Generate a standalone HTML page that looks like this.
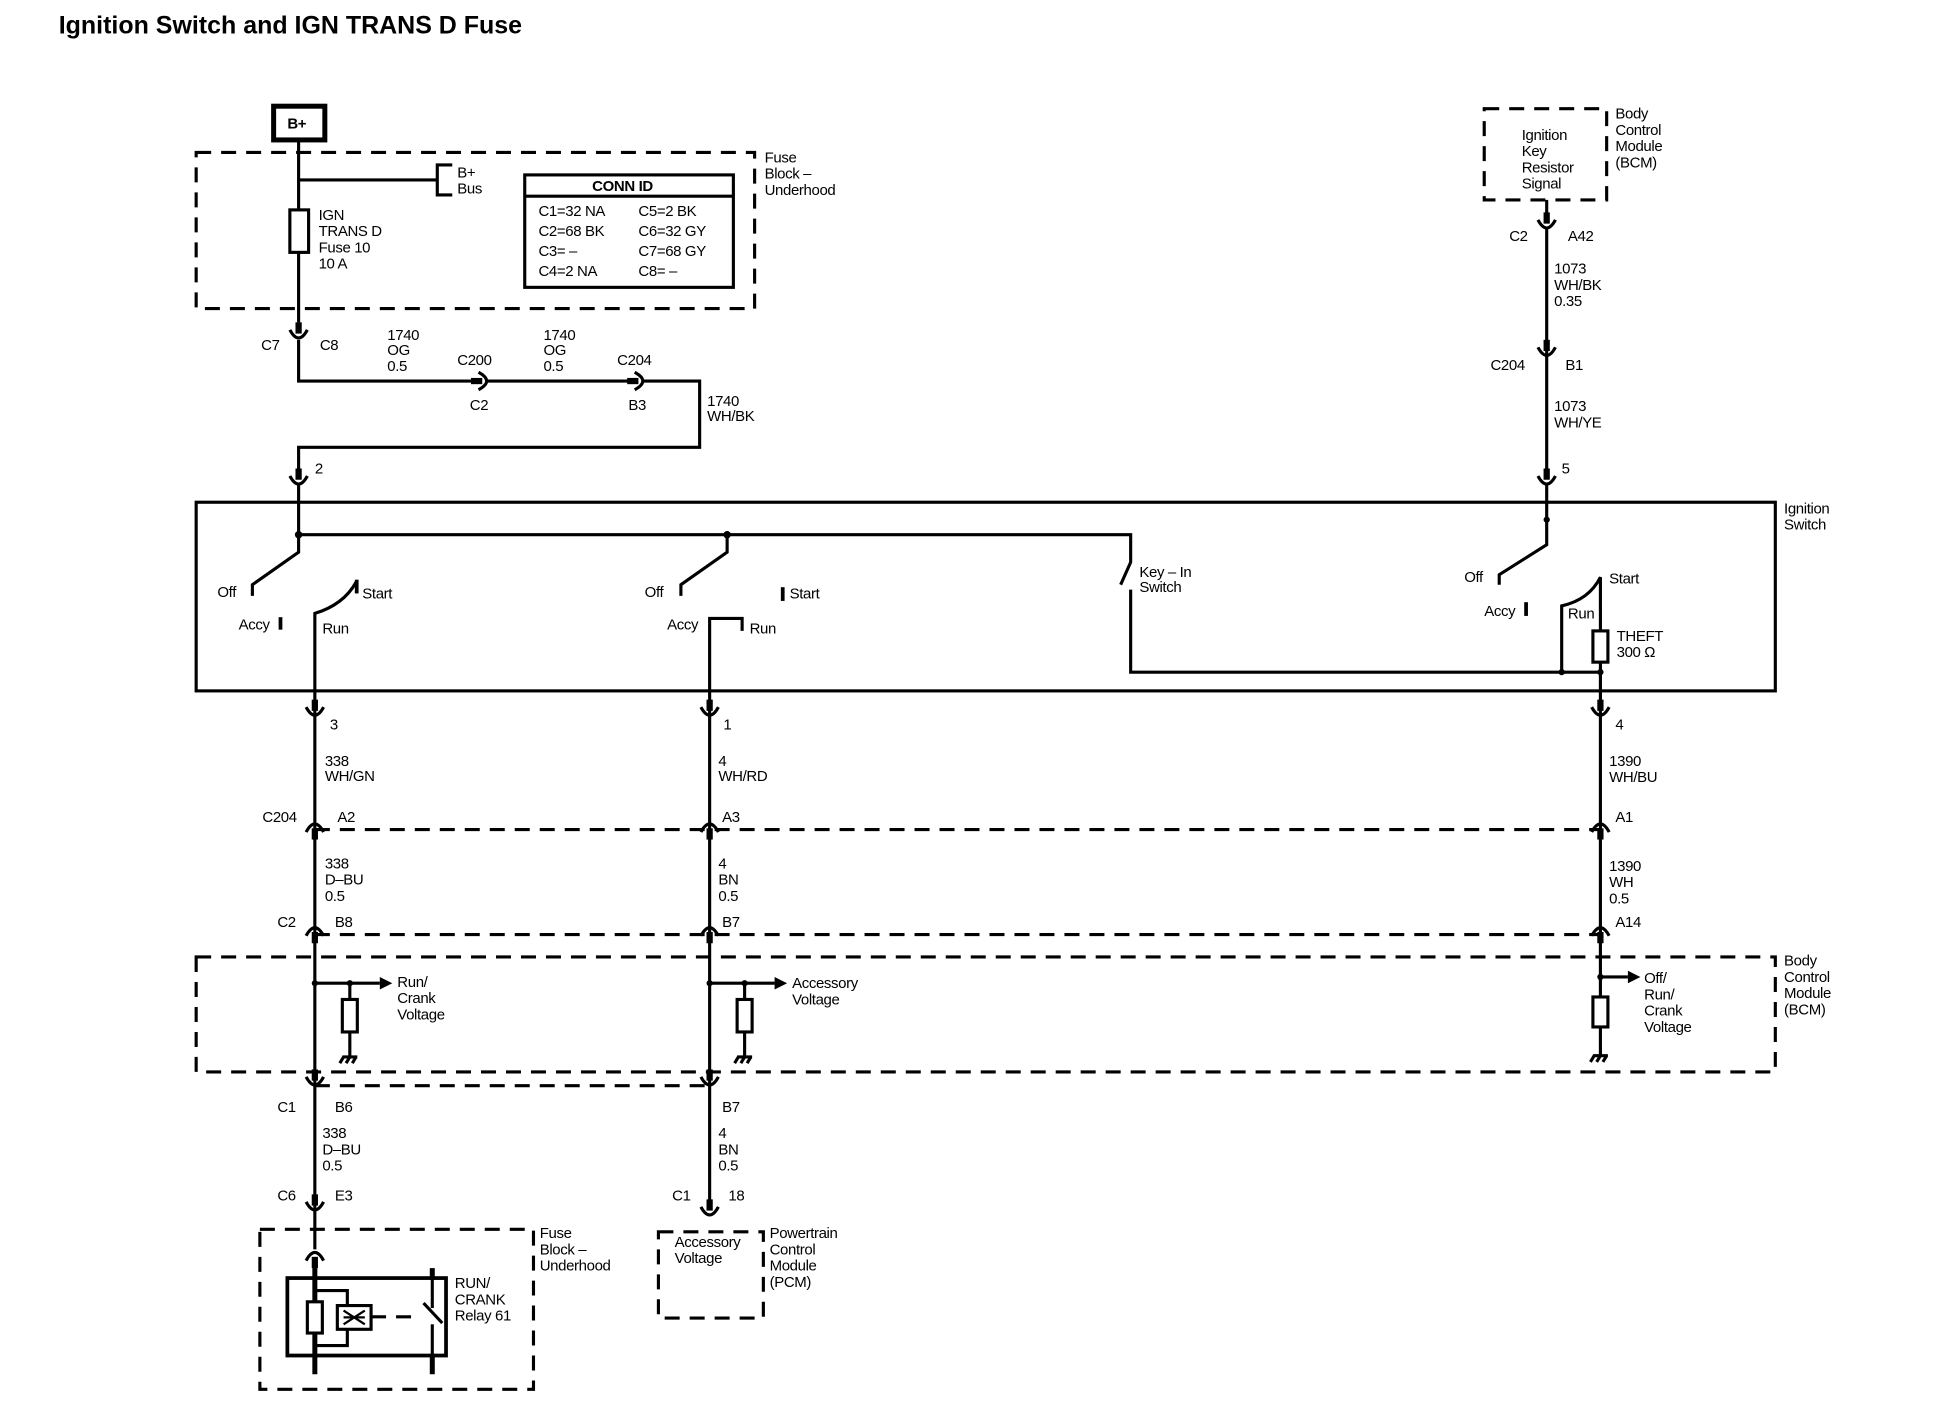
<!DOCTYPE html>
<html><head><meta charset="utf-8"><style>
html,body{margin:0;padding:0;background:#fff;}
svg{display:block;}
text{font-family:"Liberation Sans",sans-serif;font-size:12px;fill:#000;letter-spacing:-0.3px;}
.t{font-size:20px;font-weight:bold;letter-spacing:0;}
.w{stroke:#000;stroke-width:2.5;fill:none;}
.d{stroke:#000;stroke-width:2.5;fill:none;stroke-dasharray:12,8;}
.b{stroke:#000;stroke-width:3;fill:none;}
</style></head><body>
<svg width="1934" height="1408" viewBox="0 0 1548 1127" xmlns="http://www.w3.org/2000/svg">
<defs>
<g id="cu"><rect x="-2.5" y="-10" width="5" height="9" fill="#000"/><path d="M-7,-4 Q0,9 7,-4" class="w"/></g>
<g id="cn"><path d="M-7,4 Q0,-9 7,4" class="w"/><rect x="-2.5" y="1" width="5" height="9" fill="#000"/></g>
<g id="ch"><rect x="-10" y="-2.5" width="9" height="5" fill="#000"/><path d="M-4,-7 Q9,0 -4,7" class="w"/></g>
<g id="gnd"><path d="M-6,0 H6 M-5,0 L-8,5 M0,0 L-3,5 M5,0 L2,5" class="w" stroke-width="1.8"/></g>
</defs>
<text x="47" y="27" class="t">Ignition Switch and IGN TRANS D Fuse</text>

<!-- B+ -->
<rect x="219" y="85" width="41" height="27" fill="none" stroke="#000" stroke-width="4"/>
<text x="230" y="103" font-weight="bold">B+</text>
<rect x="157" y="122" width="447" height="125" class="d"/>
<line x1="239" y1="112" x2="239" y2="258" class="w"/>
<rect x="232" y="168" width="15" height="34" fill="#fff" stroke="#000" stroke-width="2.5"/>
<path d="M239,144 H350 M362,132 H350 V156 H362" class="w"/>
<text x="366" y="142">B+</text><text x="366" y="155">Bus</text>
<text x="255" y="176">IGN</text><text x="255" y="189">TRANS D</text><text x="255" y="202">Fuse 10</text><text x="255" y="215">10 A</text>
<text x="612" y="130">Fuse</text><text x="612" y="143">Block –</text><text x="612" y="156">Underhood</text>
<rect x="420" y="140" width="167" height="90" fill="none" stroke="#000" stroke-width="2.5"/>
<line x1="420" y1="157" x2="587" y2="157" class="w"/>
<text x="474" y="153" font-weight="bold">CONN ID</text>
<text x="431" y="173" font-size="13">C1=32 NA</text><text x="511" y="173" font-size="13">C5=2 BK</text>
<text x="431" y="189" font-size="13">C2=68 BK</text><text x="511" y="189" font-size="13">C6=32 GY</text>
<text x="431" y="205" font-size="13">C3= –</text><text x="511" y="205" font-size="13">C7=68 GY</text>
<text x="431" y="221" font-size="13">C4=2 NA</text><text x="511" y="221" font-size="13">C8= –</text>

<use href="#cu" x="239" y="268"/>
<text x="209" y="280">C7</text><text x="256" y="280">C8</text>
<path d="M239,272 V305 H382 M390,305 H507 M515,305 H560 V358 H239 V378" class="w"/>
<use href="#ch" x="387" y="305"/><use href="#ch" x="512" y="305"/>
<text x="310" y="272">1740</text><text x="310" y="284">OG</text><text x="310" y="297">0.5</text>
<text x="435" y="272">1740</text><text x="435" y="284">OG</text><text x="435" y="297">0.5</text>
<text x="366" y="292">C200</text><text x="376" y="328">C2</text>
<text x="494" y="292">C204</text><text x="503" y="328">B3</text>
<text x="566" y="325">1740</text><text x="566" y="337">WH/BK</text>
<use href="#cu" x="239" y="385"/><line x1="239" y1="387" x2="239" y2="402" class="w"/>
<text x="252" y="379">2</text>

<!-- Ignition switch box -->
<rect x="157" y="402" width="1264" height="151" fill="none" stroke="#000" stroke-width="2.5"/>
<text x="1428" y="411">Ignition</text><text x="1428" y="424">Switch</text>
<path d="M239,402 V442 L202,468 V477" class="w"/>
<path d="M239,428 H905 V450 L897,468" class="w"/>
<circle cx="239" cy="428" r="3"/><circle cx="582" cy="428" r="3"/>
<text x="174" y="478">Off</text><text x="191" y="504">Accy</text><rect x="223" y="494" width="3" height="10"/>
<path d="M252,553 V491 Q275,484 285,466" class="w"/>
<rect x="284" y="464" width="3" height="11"/>
<text x="290" y="479">Start</text><text x="258" y="507">Run</text>
<path d="M582,428 V442 L545,468 V477" class="w"/>
<text x="516" y="478">Off</text><text x="534" y="504">Accy</text>
<rect x="625" y="470" width="3" height="11"/><text x="632" y="479">Start</text>
<path d="M568,553 V495 H594 V505" class="w"/><text x="600" y="507">Run</text>
<path d="M905,472 V538 H1281" class="w"/>
<text x="912" y="462">Key – In</text><text x="912" y="474">Switch</text>
<!-- right switch -->
<path d="M1238,160 V175" class="w"/>
<path d="M1238,402 V436 L1200,460 V468" class="w"/>
<circle cx="1238" cy="416" r="2.5"/>
<text x="1172" y="466">Off</text><text x="1188" y="493">Accy</text><rect x="1220" y="482" width="3" height="11"/>
<path d="M1250,538 V485 Q1272,480 1281,462 V505 M1281,530 V553" class="w"/>
<rect x="1275" y="505" width="12" height="25" fill="#fff" stroke="#000" stroke-width="2.5"/>
<circle cx="1250" cy="538" r="2.5"/><circle cx="1281" cy="538" r="2.5"/>
<text x="1288" y="467">Start</text><text x="1255" y="495">Run</text>
<text x="1294" y="513">THEFT</text><text x="1294" y="526">300 Ω</text>

<!-- top right BCM -->
<rect x="1188" y="87" width="98" height="73" class="d" stroke-dasharray="10,7"/>
<text x="1218" y="112">Ignition</text><text x="1218" y="125">Key</text><text x="1218" y="138">Resistor</text><text x="1218" y="151">Signal</text>
<text x="1293" y="95">Body</text><text x="1293" y="108">Control</text><text x="1293" y="121">Module</text><text x="1293" y="134">(BCM)</text>
<use href="#cu" x="1238" y="180"/>
<line x1="1238" y1="182" x2="1238" y2="378" class="w"/>
<use href="#cu" x="1238" y="282"/><use href="#cu" x="1238" y="385"/>
<line x1="1238" y1="387" x2="1238" y2="402" class="w"/>
<text x="1208" y="193">C2</text><text x="1255" y="193">A42</text>
<text x="1244" y="219">1073</text><text x="1244" y="232">WH/BK</text><text x="1244" y="245">0.35</text>
<text x="1193" y="296">C204</text><text x="1253" y="296">B1</text>
<text x="1244" y="329">1073</text><text x="1244" y="342">WH/YE</text>
<text x="1250" y="379">5</text>

<!-- lower verticals -->
<line x1="252" y1="553" x2="252" y2="1000" class="w"/>
<line x1="568" y1="553" x2="568" y2="965" class="w"/>
<line x1="1281" y1="553" x2="1281" y2="845" class="w"/>
<use href="#cu" x="252" y="570"/><use href="#cu" x="568" y="570"/><use href="#cu" x="1281" y="570"/>
<text x="264" y="584">3</text><text x="579" y="584">1</text><text x="1293" y="584">4</text>
<text x="260" y="613">338</text><text x="260" y="625">WH/GN</text>
<text x="575" y="613">4</text><text x="575" y="625">WH/RD</text>
<text x="1288" y="613">1390</text><text x="1288" y="626">WH/BU</text>
<line x1="252" y1="664" x2="1281" y2="664" class="d" stroke-width="2" stroke-dasharray="7,5"/>
<use href="#cn" x="252" y="662"/><use href="#cn" x="568" y="662"/><use href="#cn" x="1281" y="662"/>
<text x="210" y="658">C204</text><text x="270" y="658">A2</text><text x="578" y="658">A3</text><text x="1293" y="658">A1</text>
<text x="260" y="695">338</text><text x="260" y="708">D–BU</text><text x="260" y="721">0.5</text>
<text x="575" y="695">4</text><text x="575" y="708">BN</text><text x="575" y="721">0.5</text>
<text x="1288" y="697">1390</text><text x="1288" y="710">WH</text><text x="1288" y="723">0.5</text>
<line x1="252" y1="748" x2="1281" y2="748" class="d" stroke-width="2" stroke-dasharray="7,5"/>
<use href="#cn" x="252" y="745"/><use href="#cn" x="568" y="745"/><use href="#cn" x="1281" y="745"/>
<text x="222" y="742">C2</text><text x="268" y="742">B8</text><text x="578" y="742">B7</text><text x="1293" y="742">A14</text>

<!-- BCM box -->
<rect x="157" y="766" width="1264" height="92" class="d"/>
<text x="1428" y="773">Body</text><text x="1428" y="786">Control</text><text x="1428" y="799">Module</text><text x="1428" y="812">(BCM)</text>
<path d="M252,787 H304 M280,787 V800 M280,826 V846" class="w"/>
<path d="M304,782 L314,787 L304,792Z"/><circle cx="252" cy="787" r="2.5"/><circle cx="280" cy="787" r="2.5"/>
<rect x="274" y="800" width="12" height="26" fill="#fff" stroke="#000" stroke-width="2.5"/>
<use href="#gnd" x="280" y="846"/>
<text x="318" y="790">Run/</text><text x="318" y="803">Crank</text><text x="318" y="816">Voltage</text>
<path d="M568,787 H620 M596,787 V800 M596,826 V846" class="w"/>
<path d="M620,782 L630,787 L620,792Z"/><circle cx="568" cy="787" r="2.5"/><circle cx="596" cy="787" r="2.5"/>
<rect x="590" y="800" width="12" height="26" fill="#fff" stroke="#000" stroke-width="2.5"/>
<use href="#gnd" x="596" y="846"/>
<text x="634" y="791">Accessory</text><text x="634" y="804">Voltage</text>
<path d="M1281,782 H1303" class="w"/><path d="M1303,777 L1313,782 L1303,787Z"/><circle cx="1281" cy="782" r="2.5"/>
<rect x="1275" y="798" width="12" height="24" fill="#fff" stroke="#000" stroke-width="2.5"/>
<use href="#gnd" x="1281" y="845"/>
<text x="1316" y="787">Off/</text><text x="1316" y="800">Run/</text><text x="1316" y="813">Crank</text><text x="1316" y="826">Voltage</text>

<line x1="252" y1="869" x2="568" y2="869" class="d" stroke-width="2" stroke-dasharray="7,5"/>
<use href="#cu" x="252" y="866"/><use href="#cu" x="568" y="866"/>
<text x="222" y="890">C1</text><text x="268" y="890">B6</text><text x="578" y="890">B7</text>
<text x="258" y="911">338</text><text x="258" y="924">D–BU</text><text x="258" y="937">0.5</text>
<text x="575" y="911">4</text><text x="575" y="924">BN</text><text x="575" y="937">0.5</text>
<text x="222" y="961">C6</text><text x="268" y="961">E3</text>
<text x="538" y="961">C1</text><text x="583" y="961">18</text>
<use href="#cu" x="252" y="966"/><use href="#cu" x="568" y="970"/>

<!-- relay fuse block -->
<rect x="208" y="984" width="219" height="128" class="d"/>
<text x="432" y="991">Fuse</text><text x="432" y="1004">Block –</text><text x="432" y="1017">Underhood</text>
<use href="#cn" x="252" y="1005"/>
<line x1="252" y1="1010" x2="252" y2="1100" stroke="#000" stroke-width="4"/>
<line x1="346" y1="1015" x2="346" y2="1100" stroke="#000" stroke-width="4"/>
<rect x="230" y="1023" width="127" height="62" fill="#fff" stroke="#000" stroke-width="3"/>
<line x1="252" y1="1023" x2="252" y2="1085" stroke="#000" stroke-width="4"/>
<line x1="346" y1="1018" x2="346" y2="1047" stroke="#000" stroke-width="2.5"/>
<line x1="346" y1="1060" x2="346" y2="1085" stroke="#000" stroke-width="2.5"/>
<path d="M339,1043 L354,1059" class="w"/>
<path d="M252,1033 H278 V1045 M278,1065 V1077 H252" class="w"/>
<rect x="246" y="1042" width="12" height="25" fill="#fff" stroke="#000" stroke-width="2.5"/>
<rect x="270" y="1045" width="27" height="19" fill="#fff" stroke="#000" stroke-width="2.5"/>
<path d="M275,1049 L292,1060 M292,1049 L275,1060 M275,1054.5 H292" stroke="#000" stroke-width="1.8"/>
<line x1="297" y1="1054" x2="336" y2="1054" class="d" stroke-width="2" stroke-dasharray="7,5"/>
<text x="364" y="1031">RUN/</text><text x="364" y="1044">CRANK</text><text x="364" y="1057">Relay 61</text>

<!-- PCM -->
<rect x="527" y="986" width="84" height="69" class="d" stroke-dasharray="10,7"/>
<text x="540" y="998">Accessory</text><text x="540" y="1011">Voltage</text>
<text x="616" y="991">Powertrain</text><text x="616" y="1004">Control</text><text x="616" y="1017">Module</text><text x="616" y="1030">(PCM)</text>
</svg>
</body></html>
